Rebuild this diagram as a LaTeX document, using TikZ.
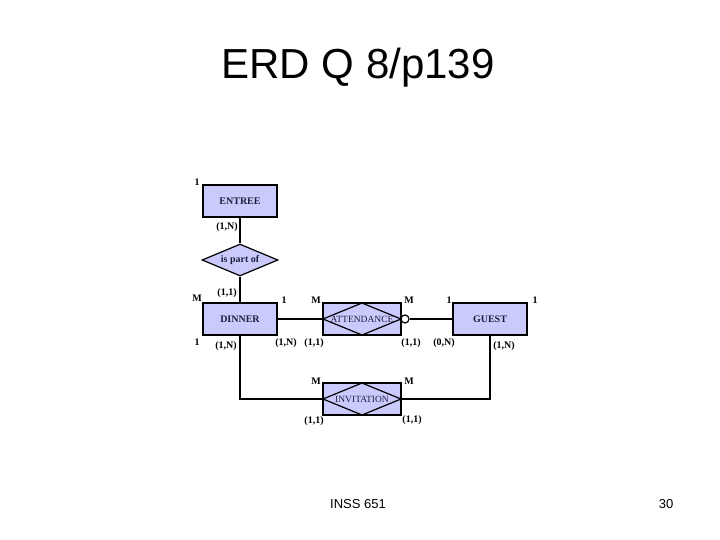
\documentclass[tikz,border=0pt]{standalone}
\usepackage{fontspec}
\setmainfont{Liberation Serif}
\newfontfamily\slidefont{Liberation Sans}
\usetikzlibrary{shapes.geometric}

\definecolor{boxfill}{RGB}{202,202,252}
\definecolor{boxtext}{RGB}{30,30,60}

\begin{document}
\begin{tikzpicture}[
    x=1pt, y=-1pt,
    every node/.style={font=\fontsize{10}{11}\selectfont\bfseries},
    entity/.style={
        draw, line width=1.2pt, fill=boxfill, text=boxtext,
        minimum width=74pt, minimum height=32pt, inner sep=0pt
    },
    assocent/.style={
        draw, line width=1.2pt, fill=boxfill, text=boxtext,
        font=\fontsize{9.5}{11}\selectfont,
        minimum width=78pt, minimum height=32pt, inner sep=0pt,
        path picture={
            \draw[line width=1.2pt] (path picture bounding box.west)
                -- (path picture bounding box.north)
                -- (path picture bounding box.east)
                -- (path picture bounding box.south) -- cycle;
        }
    },
    relation/.style={
        diamond, aspect=2.4, draw, line width=1.2pt, fill=boxfill, text=boxtext,
        minimum width=76pt, minimum height=32pt, inner sep=0pt
    },
    card/.style={inner sep=1pt},
    link/.style={line width=1.2pt}
]
\useasboundingbox (0,0) rectangle (720,540);

% Titel
\node[font=\slidefont\fontsize{42}{48}\selectfont] (title) at (358,68) {ERD Q 8/p139};

% Entitaeten
\node[entity] (entree) at (240,201) {ENTREE};
\node[entity] (dinner) at (240,319) {DINNER};
\node[entity] (guest)  at (490,319) {GUEST};

% Beziehungen
\node[relation] (partof) at (240,260) {is part of};
\node[assocent] (attend) at (362,319) {ATTENDANCE};
\node[circle, draw, line width=1.2pt, fill=white, minimum size=8pt,
      inner sep=0pt] (optional) at (405,319) {};
\node[assocent] (invite) at (362,399) {INVITATION};

% Verbindungen
\coordinate (dinnerCorner) at (240,399);
\coordinate (guestCorner)  at (490,399);
\draw[link] (entree) -- (partof);
\draw[link] (partof) -- (dinner);
\draw[link] (dinner) -- (attend);
\draw[link] (optional) -- (guest);
\draw[link] (dinner) -- (dinnerCorner) -- (invite);
\draw[link] (invite) -- (guestCorner) -- (guest);

% Kardinalitaeten
\node[card] (c1)  at (197,182) {1};
\node[card] (c2)  at (227,227) {(1,N)};
\node[card] (c3)  at (227,293) {(1,1)};
\node[card] (c4)  at (197,298) {M};
\node[card] (c5)  at (284,300) {1};
\node[card] (c6)  at (316,300) {M};
\node[card] (c7)  at (409,300) {M};
\node[card] (c8)  at (449,300) {1};
\node[card] (c9)  at (535,300) {1};
\node[card] (c10) at (197,342) {1};
\node[card] (c11) at (226,346) {(1,N)};
\node[card] (c12) at (286,343) {(1,N)};
\node[card] (c13) at (314,343) {(1,1)};
\node[card] (c14) at (411,343) {(1,1)};
\node[card] (c15) at (444,343) {(0,N)};
\node[card] (c16) at (504,346) {(1,N)};
\node[card] (c17) at (316,381) {M};
\node[card] (c18) at (409,381) {M};
\node[card] (c19) at (314,421) {(1,1)};
\node[card] (c20) at (412,420) {(1,1)};

% Fusszeile
\node[font=\slidefont\fontsize{13}{15}\selectfont] (course) at (358,504) {INSS 651};
\node[font=\slidefont\fontsize{13}{15}\selectfont] (page)   at (666,504) {30};

\end{tikzpicture}
\end{document}
